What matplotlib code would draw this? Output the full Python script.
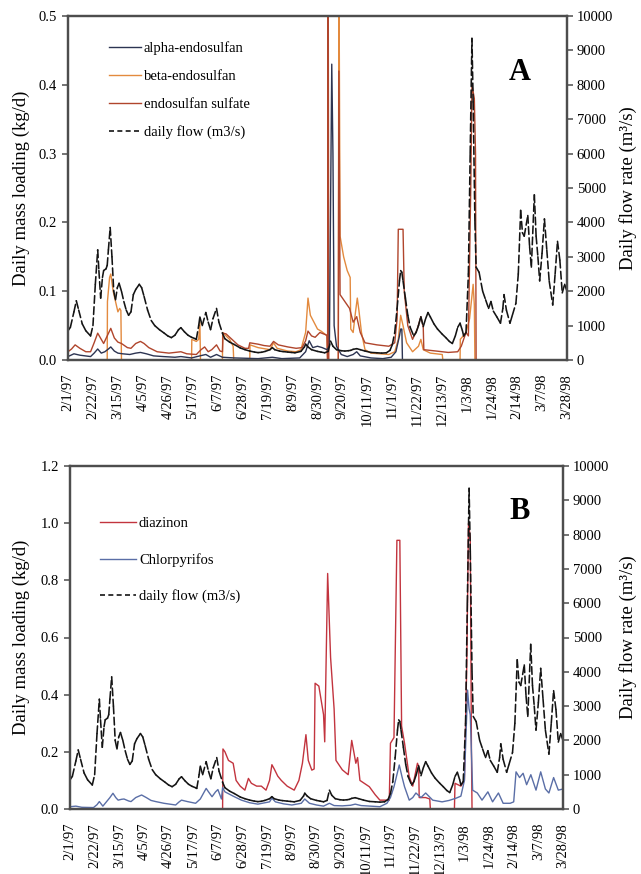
import numpy as np
import matplotlib
matplotlib.use("Agg")
import matplotlib.pyplot as plt
from matplotlib.collections import LineCollection
from matplotlib.lines import Line2D

plt.rcParams['font.family'] = ['Liberation Serif', 'DejaVu Serif']

# ---------------- data (day offset from 2/1/97, value) ----------------
tick_labels = ['2/1/97', '2/22/97', '3/15/97', '4/5/97', '4/26/97', '5/17/97', '6/7/97',
               '6/28/97', '7/19/97', '8/9/97', '8/30/97', '9/20/97', '10/11/97', '11/1/97',
               '11/22/97', '12/13/97', '1/3/98', '1/24/98', '2/14/98', '3/7/98', '3/28/98']

flow_day = [0, 2, 5, 7, 9, 12, 15, 19, 21, 23, 25, 26, 27.5, 29, 30, 32, 33, 34, 35.5, 37,
            38.5, 40, 41.5, 43, 45, 47, 49, 51, 53, 55, 57, 60, 62, 64, 67, 70, 73, 77, 81,
            84, 87, 90, 93, 95, 98, 101, 104, 107, 108, 110, 111, 113, 116, 118, 120, 122,
            125, 127, 130, 132, 136, 140, 145, 149, 153, 157, 160, 163, 166, 170, 172, 174,
            178, 181, 185, 188, 191, 196, 199, 200, 202, 205, 210, 213, 216, 219, 221, 223,
            226, 230, 233, 236, 238, 240, 243, 246, 250, 255, 260, 264, 268, 271, 273, 275,
            277, 279, 280, 281, 282, 284, 286, 288, 291, 293, 295, 297, 299, 301, 303, 305,
            308, 311, 315, 318, 321, 323.5, 326, 328, 330, 332, 333, 335, 337, 338.5, 340,
            341, 342.5, 343.5, 346, 349, 351.5, 354, 356, 358, 361, 364, 366, 367, 369, 372,
            374, 377, 379, 381, 382.5, 384, 387, 388.5, 390, 392.5, 394, 395.5, 397, 399,
            401, 403, 405, 408, 410, 412, 414, 416, 418, 420]
flow_val = [850, 950, 1400, 1720, 1450, 1050, 850, 700, 1000, 2200, 3200, 2600, 1800, 2400,
            2600, 2650, 2750, 3200, 3850, 3000, 2000, 1750, 2100, 2230, 2000, 1700, 1450,
            1300, 1400, 1900, 2050, 2200, 2100, 1850, 1450, 1150, 1000, 880, 780, 700, 650,
            720, 880, 940, 820, 720, 660, 620, 600, 1000, 1250, 1000, 1380, 1100, 880, 1200,
            1500, 1100, 780, 620, 520, 450, 350, 300, 260, 230, 215, 225, 250, 300, 360, 300,
            260, 245, 230, 220, 210, 250, 380, 460, 380, 300, 250, 230, 210, 250, 550, 400,
            300, 270, 260, 270, 280, 310, 330, 300, 260, 220, 210, 200, 210, 280, 450, 800,
            1500, 2300, 2600, 2550, 2300, 1800, 1300, 950, 700, 800, 1000, 1260, 970, 1200,
            1380, 1250, 1050, 900, 750, 650, 540, 480, 700, 950, 1070, 850, 700, 800, 2500,
            6000, 9350, 7500, 4000, 2700, 2550, 2000, 1750, 1500, 1700, 1420, 1250, 1070,
            1500, 1900, 1450, 1070, 1300, 1650, 2500, 4350, 3700, 3600, 4200, 3300, 2700,
            4800, 3600, 3000, 2300, 3100, 4100, 3200, 2300, 1600, 2500, 3450, 2900, 1950,
            2200, 2000]

alpha_day = [0, 5, 10, 19, 22, 25, 28, 31, 34, 36, 39, 42, 46, 52, 57, 61, 66, 72, 80, 90,
             95, 104, 111, 116, 120, 125, 130, 140, 160, 172, 180, 195, 200, 203, 206, 210,
             214, 218, 220, 222, 223, 224, 226, 230, 235, 240, 243, 246, 255, 265, 272, 276,
             279, 280, 281, 281.5]
alpha_val = [0.005, 0.009, 0.007, 0.005, 0.01, 0.016, 0.01, 0.012, 0.016, 0.019, 0.013, 0.01,
             0.009, 0.008, 0.01, 0.011, 0.009, 0.006, 0.005, 0.004, 0.005, 0.003, 0.006, 0.008,
             0.004, 0.008, 0.004, 0.003, 0.002, 0.004, 0.002, 0.003, 0.012, 0.028, 0.018,
             0.02, 0.018, 0.015, 0.02, 0.43, 0.3, 0.05, 0.02, 0.008, 0.005, 0.008, 0.012,
             0.006, 0.003, 0.002, 0.004, 0.012, 0.035, 0.045, 0.045, 0.0]

beta_day = [0, 33, 33.2, 35, 36, 38, 40, 42, 43.5, 44.5, 45, 104, 104.2, 108, 110, 111, 111.5,
            130, 130.2, 133, 136, 139, 139.5, 153, 153.2, 160, 170, 173, 176, 185, 192, 196,
            200, 202, 204, 207, 210, 213, 216, 218, 218.5, 227.5, 228, 229, 232, 235, 237.5,
            238, 240, 242, 243.5, 245, 247, 250, 255, 270, 275, 278, 280, 282, 285, 290, 295,
            297, 299, 305, 315, 315.5, 330, 330.2, 335, 338, 341, 342, 342.5]
beta_val = [0.0, 0.0, 0.085, 0.12, 0.125, 0.1, 0.085, 0.07, 0.075, 0.072, 0.0, 0.0, 0.03,
            0.027, 0.03, 0.055, 0.0, 0.0, 0.04, 0.035, 0.03, 0.02, 0.0, 0.0, 0.022, 0.018,
            0.015, 0.025, 0.017, 0.013, 0.012, 0.015, 0.04, 0.09, 0.065, 0.055, 0.045, 0.042,
            0.038, 0.035, 0.0, 0.0, 0.6, 0.18, 0.15, 0.13, 0.12, 0.045, 0.04, 0.07, 0.09,
            0.07, 0.04, 0.015, 0.01, 0.008, 0.012, 0.03, 0.065, 0.05, 0.025, 0.012, 0.02,
            0.03, 0.015, 0.01, 0.008, 0.0, 0.0, 0.03, 0.04, 0.06, 0.11, 0.08, 0.0]

sulf_day = [0, 3, 6, 10, 15, 19, 22, 25, 28, 30, 33, 36, 39, 42, 45, 50, 53, 57, 61, 64, 68,
            75, 85, 95, 100, 108, 112, 115, 118, 121, 125, 128, 130, 130.5, 133, 138, 143,
            149, 152, 153, 160, 165, 170, 173, 177, 185, 192, 197, 200, 202, 205, 208, 212,
            215, 218, 218.5, 219, 219.5, 227.5, 228, 229, 233, 237, 240, 243, 246, 250, 260,
            270, 275, 277, 278, 282, 283, 286, 290, 294, 297, 299, 299.5, 310, 320, 328, 331,
            335, 337, 339, 340, 342, 343, 343.5]
sulf_val = [0.012, 0.016, 0.022, 0.017, 0.012, 0.012, 0.025, 0.039, 0.03, 0.024, 0.035, 0.046,
            0.032, 0.026, 0.024, 0.018, 0.017, 0.024, 0.027, 0.024, 0.018, 0.012, 0.01, 0.012,
            0.009, 0.008, 0.015, 0.019, 0.012, 0.015, 0.022, 0.013, 0.012, 0.039, 0.038, 0.03,
            0.022, 0.017, 0.017, 0.025, 0.023, 0.021, 0.02, 0.027, 0.022, 0.019, 0.017, 0.018,
            0.028, 0.042, 0.035, 0.033, 0.04, 0.038, 0.036, 0.0, 0.6, 0.0, 0.0, 0.42, 0.095,
            0.085, 0.075, 0.055, 0.063, 0.04, 0.025, 0.022, 0.02, 0.025, 0.06, 0.19, 0.19, 0.1,
            0.05, 0.03, 0.045, 0.063, 0.048, 0.015, 0.013, 0.011, 0.012, 0.02, 0.04, 0.035,
            0.25, 0.4, 0.38, 0.3, 0.0]

diaz_day = [130, 130.3, 132, 135, 139, 141.5, 145, 149, 152, 154.5, 159, 163, 167, 170, 172,
            174, 177, 180, 185, 191, 195, 198, 201, 203, 206, 208, 208.8, 212, 214, 216, 217,
            219.5, 222, 225, 226.6, 232, 237, 240, 242, 243.5, 245, 247, 255, 260, 264, 272,
            273, 276, 278.5, 281, 282.5, 285, 289, 292, 296, 297, 297.5, 303, 306.5, 307,
            327.5, 328, 333, 336, 338, 339.5, 341, 342, 342.5]
diaz_val = [0.0, 0.21, 0.2, 0.17, 0.16, 0.1, 0.08, 0.066, 0.107, 0.09, 0.08, 0.08, 0.066, 0.1,
            0.155, 0.14, 0.115, 0.1, 0.08, 0.066, 0.1, 0.16, 0.26, 0.17, 0.136, 0.14, 0.44,
            0.43, 0.38, 0.33, 0.235, 0.824, 0.53, 0.35, 0.17, 0.137, 0.12, 0.24, 0.195, 0.16,
            0.18, 0.1, 0.078, 0.05, 0.031, 0.031, 0.23, 0.25, 0.94, 0.94, 0.29, 0.23, 0.113,
            0.08, 0.16, 0.15, 0.04, 0.04, 0.035, 0.0, 0.0, 0.09, 0.08, 0.1, 0.5, 1.0, 0.95,
            0.2, 0.0]

chlor_day = [0, 5, 10, 20, 23, 25, 28, 31, 34, 36.6, 39, 41, 44, 46, 50, 52, 56, 61, 65, 69,
             73, 80, 90, 93, 95, 100, 107, 111, 116, 118, 121, 124, 126, 129, 130, 132, 139,
             146, 153, 160, 170, 172, 175, 182, 189, 197, 200, 204, 210, 216, 221, 225, 232,
             239, 243, 248, 256, 264, 270, 273, 276, 280.5, 283, 285, 289, 292, 294.7, 299,
             303, 309, 317, 323, 329, 333, 336, 338.7, 340, 341, 343, 347, 351, 356, 360, 365,
             369, 375, 378, 380, 383, 386, 389, 392.6, 397, 401, 405, 408, 412, 416, 420]
chlor_val = [0.008, 0.01, 0.006, 0.005, 0.015, 0.026, 0.01, 0.025, 0.04, 0.055, 0.04, 0.031,
             0.034, 0.035, 0.028, 0.026, 0.04, 0.049, 0.04, 0.03, 0.026, 0.02, 0.014, 0.025,
             0.031, 0.026, 0.02, 0.035, 0.072, 0.06, 0.043, 0.06, 0.068, 0.035, 0.075, 0.06,
             0.045, 0.031, 0.022, 0.017, 0.025, 0.038, 0.025, 0.018, 0.014, 0.02, 0.035, 0.02,
             0.014, 0.01, 0.02, 0.012, 0.011, 0.013, 0.017, 0.012, 0.01, 0.008, 0.02, 0.04,
             0.078, 0.154, 0.11, 0.078, 0.031, 0.04, 0.056, 0.04, 0.056, 0.031, 0.025, 0.03,
             0.038, 0.045, 0.1, 0.416, 0.35, 0.33, 0.066, 0.056, 0.031, 0.06, 0.025, 0.056,
             0.02, 0.02, 0.025, 0.13, 0.11, 0.125, 0.085, 0.12, 0.066, 0.13, 0.07, 0.056, 0.11,
             0.066, 0.07]

# ---------------- styling ----------------
SPINE = '#4d4d4d'
C_ALPHA = '#2c3452'
C_BETA = '#e38a3e'
C_SULF = '#b0452c'
C_DIAZ = '#c2343e'
C_CHLOR = '#5a6ea6'
C_FLOW = '#141414'
FLOW_DASH = (0, (4.8, 2.2))

fig = plt.figure(figsize=(6.41, 8.74), dpi=100)
W, H = 641.0, 874.0


def make_axes(x0, x1, ytop, ybot):
    return fig.add_axes([x0 / W, 1 - ybot / H, (x1 - x0) / W, (ybot - ytop) / H])


def flow_lines(ax):
    x = np.asarray(flow_day, float)
    y = np.asarray(flow_val, float)
    pts = np.column_stack([x, y])
    segs = np.stack([pts[:-1], pts[1:]], axis=1)
    lc = LineCollection(segs, colors=C_FLOW, linewidths=1.15, linestyles=FLOW_DASH,
                        capstyle='round')
    ax.add_collection(lc)


def style(ax, ax2, ymax, ystep, ylab_x, rlab_x):
    ax.set_xlim(0, 420)
    ax.set_ylim(0, ymax)
    ax2.set_ylim(0, 10000)
    ax.set_xticks(np.arange(0, 421, 21))
    ax.set_xticklabels(tick_labels, rotation=90, fontsize=10.5)
    ax.tick_params(axis='x', length=0, pad=10)
    ax.set_yticks(np.round(np.arange(0, ymax + 1e-9, ystep), 2))
    ax.set_yticklabels(['%.1f' % v for v in np.arange(0, ymax + 1e-9, ystep)], fontsize=10.5)
    ax.tick_params(axis='y', direction='out', length=4, width=1.1, color=SPINE, pad=4)
    ax2.set_yticks(np.arange(0, 10001, 1000))
    ax2.set_yticklabels([str(v) for v in range(0, 10001, 1000)], fontsize=10.5)
    ax2.tick_params(axis='y', direction='out', length=4, width=1.1, color=SPINE, pad=3)
    for a in (ax, ax2):
        for s in a.spines.values():
            s.set_color(SPINE)
            s.set_linewidth(1.6)
    ax.set_ylabel('Daily mass loading (kg/d)', fontsize=13.5)
    ax.yaxis.set_label_coords(ylab_x, 0.5)
    ax2.set_ylabel('Daily flow rate (m³/s)', fontsize=13.5, rotation=90)
    ax2.yaxis.set_label_coords(rlab_x, 0.5)


# ---------------- Panel A ----------------
axA = make_axes(68, 567, 16, 360)
axA2 = axA.twinx()
lw = 1.0
hb, = axA.plot(beta_day, beta_val, color=C_BETA, lw=lw, label='beta-endosulfan')
hs, = axA.plot(sulf_day, sulf_val, color=C_SULF, lw=lw, label='endosulfan sulfate')
ha, = axA.plot(alpha_day, alpha_val, color=C_ALPHA, lw=lw, label='alpha-endosulfan')
flow_lines(axA2)
style(axA, axA2, 0.5, 0.1, -0.076, 1.104)
hf = Line2D([], [], color=C_FLOW, lw=1.2, linestyle=(0, (3.0, 2.0)))
axA2.legend([ha, hb, hs, hf],
            ['alpha-endosulfan', 'beta-endosulfan', 'endosulfan sulfate', 'daily flow (m3/s)'],
            loc='upper left', bbox_to_anchor=(0.082, 0.926), frameon=False, fontsize=10.5,
            borderpad=0, borderaxespad=0, handlelength=2.2, handletextpad=0.2,
            labelspacing=1.0)
axA2.text(0.905, 0.835, 'A', transform=axA2.transAxes, fontsize=22, fontweight='bold',
          ha='center', va='center')

# ---------------- Panel B ----------------
axB = make_axes(70, 563, 466, 809)
axB2 = axB.twinx()
hd, = axB.plot(diaz_day, diaz_val, color=C_DIAZ, lw=lw, label='diazinon')
hc, = axB.plot(chlor_day, chlor_val, color=C_CHLOR, lw=lw, label='Chlorpyrifos')
flow_lines(axB2)
style(axB, axB2, 1.2, 0.2, -0.081, 1.114)
axB2.legend([hd, hc, hf], ['diazinon', 'Chlorpyrifos', 'daily flow (m3/s)'],
            loc='upper left', bbox_to_anchor=(0.06, 0.851), frameon=False, fontsize=10.5,
            borderpad=0, borderaxespad=0, handlelength=2.5, handletextpad=0.2,
            labelspacing=1.55)
axB2.text(0.913, 0.866, 'B', transform=axB2.transAxes, fontsize=22, fontweight='bold',
          ha='center', va='center')

fig.savefig('out.png', dpi=100)
